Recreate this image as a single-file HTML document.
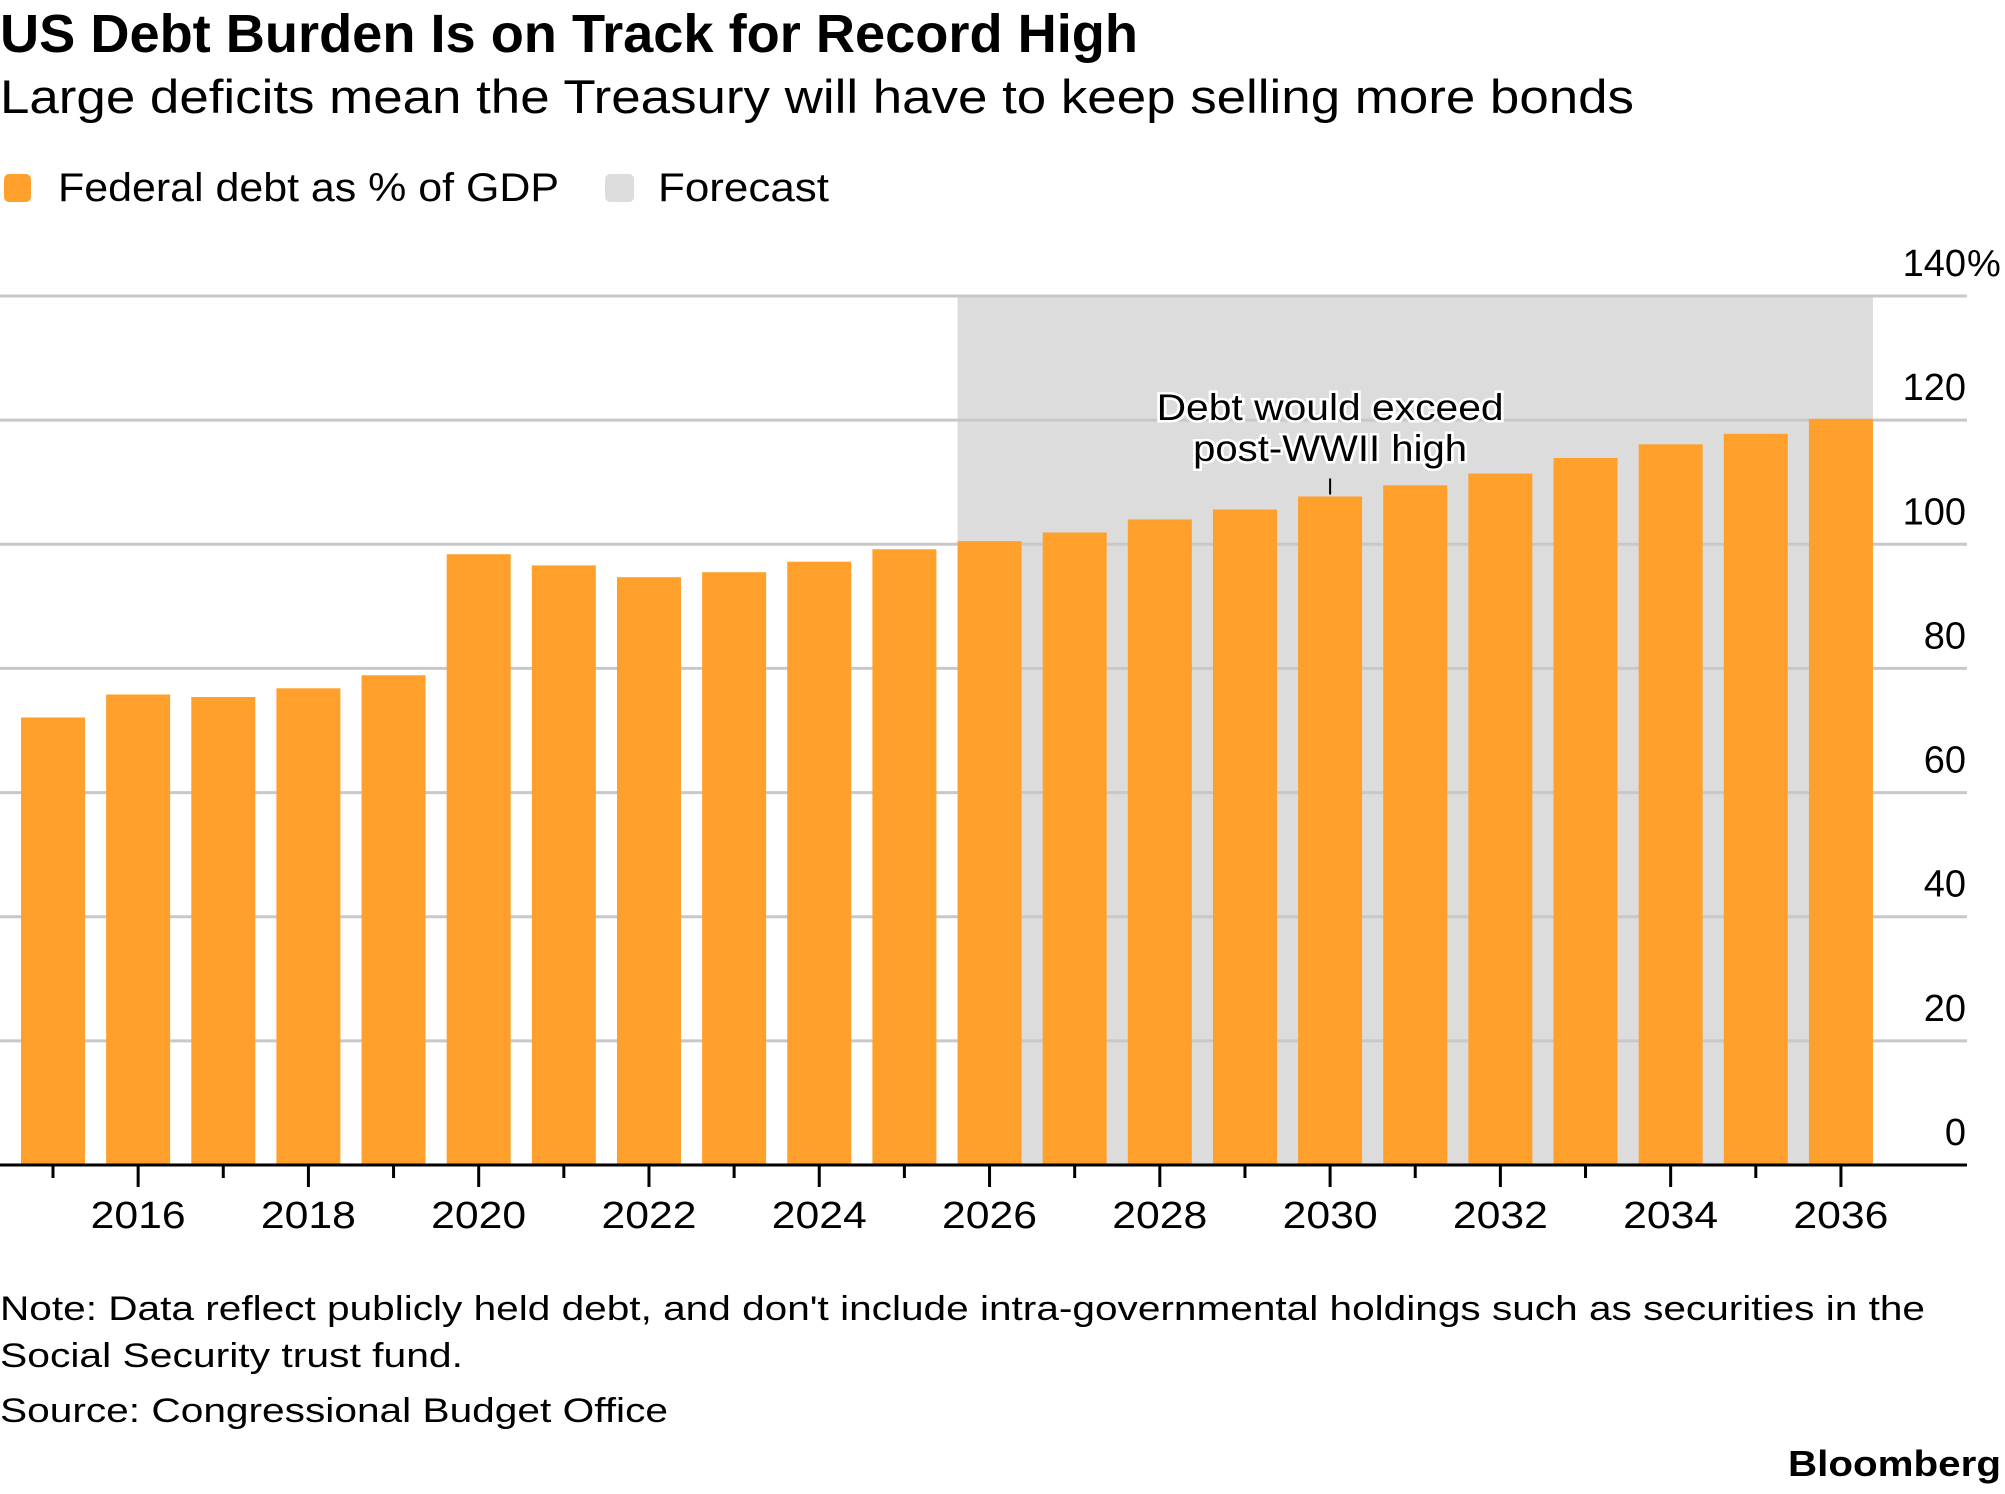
<!DOCTYPE html>
<html><head><meta charset="utf-8"><style>
html,body{margin:0;padding:0;background:#fff;}
svg{display:block;font-family:"Liberation Sans",Arial,sans-serif;}
</style></head><body>
<svg id="chart" width="2005" height="1494" viewBox="0 0 2005 1494">
<text x="0" y="52" font-size="54" font-weight="bold" textLength="1138" lengthAdjust="spacingAndGlyphs">US Debt Burden Is on Track for Record High</text>
<text x="0" y="113" font-size="47" textLength="1634" lengthAdjust="spacingAndGlyphs">Large deficits mean the Treasury will have to keep selling more bonds</text>
<g>
<rect x="4" y="174" width="27" height="28" rx="5" fill="#fea02b"/>
<text x="58" y="201" font-size="40" textLength="501" lengthAdjust="spacingAndGlyphs">Federal debt as % of GDP</text>
<rect x="605" y="174" width="29" height="28" rx="5" fill="#dcdcdc"/>
<text x="658" y="201" font-size="40" textLength="171" lengthAdjust="spacingAndGlyphs">Forecast</text>
</g>
<g id="plot"></g>
<text x="0" y="1320" font-size="34" textLength="1925" lengthAdjust="spacingAndGlyphs">Note: Data reflect publicly held debt, and don't include intra-governmental holdings such as securities in the</text>
<text x="0" y="1367" font-size="34" textLength="463" lengthAdjust="spacingAndGlyphs">Social Security trust fund.</text>
<text x="0" y="1422" font-size="34" textLength="668" lengthAdjust="spacingAndGlyphs">Source: Congressional Budget Office</text>
<text x="1788" y="1476" font-size="36" font-weight="bold" textLength="213" lengthAdjust="spacingAndGlyphs">Bloomberg</text>
</svg>
<script>
const years = [2015,2016,2017,2018,2019,2020,2021,2022,2023,2024,2025,2026,2027,2028,2029,2030,2031,2032,2033,2034,2035,2036];
const debtValues = [72.1,75.8,75.4,76.8,78.9,98.4,96.6,94.7,95.5,97.2,99.2,100.5,101.9,104.0,105.6,107.7,109.5,111.4,113.9,116.1,117.8,120.2];
const yTicks = [0,20,40,60,80,100,120,140];
const yTickLabels = ["0","20","40","60","80","100","120","140"];
const forecastStart = 2026;
const annotationYear = 2030;

const NS = "http://www.w3.org/2000/svg";
const plot = document.getElementById('plot');
const x0 = 21, pitch = 85.14, barW = 64;
const yZero = 1165, yTop = 296, yMax = 140;
function xScale(i){ return x0 + i*pitch; }
function yScale(v){ return yZero - (v/yMax)*(yZero-yTop); }
function mk(tag, attrs){ const e=document.createElementNS(NS,tag); for(const k in attrs) e.setAttribute(k,attrs[k]); plot.appendChild(e); return e; }

const fi = years.indexOf(forecastStart);
const shade = mk('rect',{x:xScale(fi),y:yScale(yMax),width:xScale(years.length-1)+barW-xScale(fi),height:yZero-yScale(yMax),fill:'#dcdcdc'});



yTicks.forEach((t,i)=>{
  if(t>0){
    const g = mk('line',{x1:0,x2:1967,y1:yScale(t),y2:yScale(t),stroke:'#c8c8c8','stroke-width':3});
    
    
  }
  const lb = mk('text',{x:1966,y:yScale(t)-20,'font-size':38,'text-anchor':'end'});
  lb.textContent = yTickLabels[i];
  
  
  if(i===yTicks.length-1){
    const pc = mk('text',{x:1967,y:yScale(t)-20,'font-size':38});
    pc.textContent = '%';
    
    
  }
});

years.forEach((yr,i)=>{
  const b = mk('rect',{x:xScale(i),y:yScale(debtValues[i]),width:barW,height:yZero-yScale(debtValues[i]),fill:'#fea02b'});
  
  
  const cx = xScale(i)+barW/2;
  const even = yr%2===0;
  const tk = mk('line',{x1:cx,x2:cx,y1:yZero,y2:yZero+(even?22:13),stroke:'#000','stroke-width':3});
  
  
  if(even){
    const lb = mk('text',{x:cx,y:1228,'font-size':38,'text-anchor':'middle',textLength:95,lengthAdjust:'spacingAndGlyphs'});
    lb.textContent = String(yr);
    
    
  }
});

const ax = mk('line',{x1:0,x2:1967,y1:yZero,y2:yZero,stroke:'#000','stroke-width':3});



const ai = years.indexOf(annotationYear);
const acx = xScale(ai)+barW/2;
const al = mk('line',{x1:acx,x2:acx,y1:yScale(debtValues[ai])-18,y2:yScale(debtValues[ai])-2,stroke:'#000','stroke-width':2});


[["Debt would exceed",420,347],["post-WWII high",461,274]].forEach(([t,y,w])=>{
  const e = mk('text',{x:acx,y:y,'font-size':37,'text-anchor':'middle',textLength:w,lengthAdjust:'spacingAndGlyphs',stroke:'#fff','stroke-width':5,'paint-order':'stroke',fill:'#000'});
  e.textContent = t;
  
  
});
</script>
</body></html>
